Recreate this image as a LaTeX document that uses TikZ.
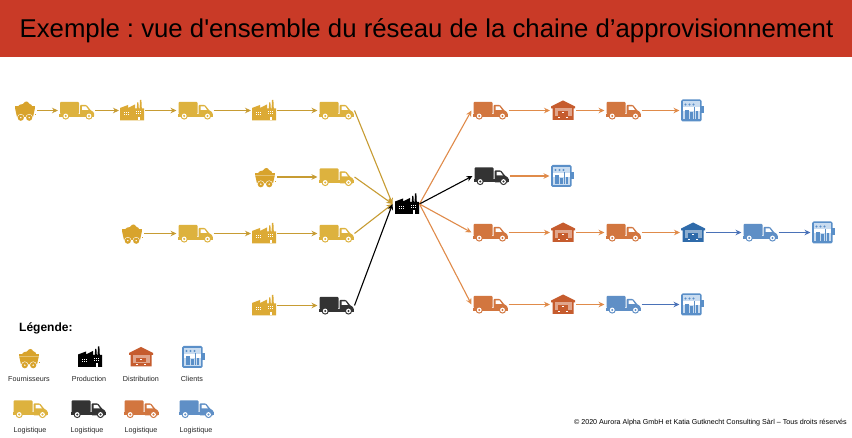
\documentclass[tikz,border=0pt]{standalone}
\usepackage{fontspec}
\setmainfont{Liberation Sans}
\newfontfamily\plainfont{Liberation Sans}
\usetikzlibrary{arrows.meta}
\definecolor{band}{HTML}{C93A27}
\definecolor{ty}{HTML}{DDB23E}
\definecolor{my}{HTML}{D8A32C}
\definecolor{fy}{HTML}{DCAA35}
\definecolor{ly}{HTML}{C79C33}
\definecolor{tk}{HTML}{333333}
\definecolor{to}{HTML}{D2763F}
\definecolor{wo}{HTML}{C65C2E}
\definecolor{lo}{HTML}{E08B4A}
\definecolor{tb}{HTML}{5F8FC6}
\definecolor{wb}{HTML}{2F6BAA}
\definecolor{lb}{HTML}{4A72B8}
\definecolor{cb}{HTML}{5A8FC8}
\definecolor{cl}{HTML}{C9DCF0}
\tikzset{
  x=1pt,y=-1pt,
  truckbox/.style={minimum width=35pt,minimum height=18pt,inner sep=0pt,outer sep=1pt},
  minebox/.style={minimum width=21pt,minimum height=20pt,inner sep=0pt,outer sep=1.5pt},
  factbox/.style={minimum width=24pt,minimum height=20pt,inner sep=0pt,outer sep=1pt},
  hubbox/.style={minimum width=27pt,minimum height=20pt,inner sep=0pt,outer sep=0pt},
  housebox/.style={minimum width=24pt,minimum height=20pt,inner sep=0pt,outer sep=1pt},
  clientbox/.style={minimum width=23pt,minimum height=22pt,inner sep=0pt,outer sep=1pt},
  link/.style={line width=1.1pt,-{Stealth[length=6pt,width=5.5pt]}},
  ylink/.style={link,draw=ly},
  olink/.style={link,draw=lo},
  blink/.style={link,draw=lb},
  klink/.style={link,draw=black},
  leg/.style={font=\fontsize{7.2}{8}\selectfont,text=black!85,inner sep=0pt},
  pics/truck/.style={code={
    \fill[#1,rounded corners=0.8pt] (-16.5,-8.5) rectangle (2.5,3.5);
    \fill[#1] (-17.5,3.5) rectangle (17.5,6.5);
    \fill[#1,rounded corners=0.8pt] (3.5,-5.5) -- (10,-5.5) -- (14,-0.5) -- (17.5,2) -- (17.5,6.5) -- (3.5,6.5) -- cycle;
    \fill[white] (5.5,-4) -- (9.5,-4) -- (12,-0.5) -- (5.5,-0.5) -- cycle;
    \foreach \wx in {-10.8,12.5}{
      \fill[#1] (\wx,5.5) circle (3.6);
      \fill[white] (\wx,5.5) circle (2.4);
      \fill[#1] (\wx,5.5) circle (1.2);
    }
  }},
  pics/mine/.style={code={
    \fill[#1] (-7,-3) .. controls (-7,-6) and (-3,-6.5) .. (-2,-6.5) .. controls (0,-10) and (3,-9.5) .. (4,-7) .. controls (6,-6.5) and (7.5,-5) .. (7.5,-3) -- cycle;
    \fill[#1] (-10.2,-4) -- (10.2,-4) -- (10.2,-1.5) -- (-10.2,-1.5) -- cycle;
    \fill[#1] (-9.8,-1.5) -- (9.8,-1.5) -- (8,6.5) -- (-8,6.5) -- cycle;
    \foreach \wx in {-4.2,4.2}{
      \fill[white] (\wx,7.2) circle (3.7);
      \fill[#1] (\wx,7.2) circle (3.1);
      \fill[white] (\wx,7.2) circle (0.8);
    }
    \fill[#1] (10,4) rectangle (11,5);
  }},
  pics/factory/.style={code={
    \fill[#1] (-12,10) -- (-12,-2.5) -- (-4,-5.5) -- (-4,-2.5) -- (3,-6) -- (3,-2) -- (4.8,-2) -- (5.2,-8) -- (6.4,-8) -- (6.8,-2) -- (7.6,-2) -- (8,-10.5) -- (9.4,-10.5) -- (9.8,-2) -- (12,-2) -- (12,10) -- cycle;
    \foreach \dx/\dy in {-8.5/2,-6.5/2,-4.5/2,-8.5/4,-6.5/4,-4.5/4,4/1,6/1,8/1,4/3,6/3,8/3}{
      \fill[white] (\dx,\dy) rectangle ++(1.1,1);
    }
    \fill[white] (6,6.5) rectangle (8,10);
  }},
  pics/house/.style={code={
    \fill[#1] (-12,-4) -- (0,-10) -- (12,-4) -- (12,-2) -- (10.5,-2) -- (10.5,9.5) -- (-10.5,9.5) -- (-10.5,-2) -- (-12,-2) -- cycle;
    \fill[white!45!#1] (-8.5,-2) rectangle (8.5,9.5);
    \fill[#1] (-5,1) rectangle (5,5.2);
    \fill[#1] (-8.5,5.8) rectangle (-0.3,9.5);
    \fill[#1] (0.3,5.8) rectangle (8.5,9.5);
    \fill[white] (-0.8,2) rectangle (0.8,3);
    \fill[white] (-5,6.6) rectangle (-3.4,7.6);
    \fill[white] (3.4,6.6) rectangle (5,7.6);
  }},
  pics/client/.style={code={
    \fill[cb] (9,-4) rectangle (12,3);
    \fill[cb,rounded corners=1.5pt] (-11,-11) rectangle (9.5,11);
    \fill[cl] (-9,-9) rectangle (7.5,9);
    \foreach \dx in {-6.5,-2.5,1.5}{ \fill[cb] (\dx,-6) circle (1.1); }
    \fill[white] (-9,-3) rectangle (7.5,1);
    \fill[cb] (-7.5,-0.5) rectangle (-3.5,8.5);
    \fill[cb] (-2.5,2) rectangle (0.8,8.5);
    \fill[cb] (1.8,-3.5) rectangle (3,8.5);
    \fill[cb] (3.8,1) rectangle (6.2,8.5);
  }},
}
\newcommand{\tk}[4]{\node[truckbox] (#1) at (#2,#3) {}; \pic at (#1) {truck=#4};}
\newcommand{\mn}[3]{\node[minebox] (#1) at (#2,#3) {}; \pic at (#1) {mine=my};}
\newcommand{\fc}[4]{\node[factbox] (#1) at (#2,#3) {}; \pic at (#1) {factory=#4};}
\newcommand{\hs}[4]{\node[housebox] (#1) at (#2,#3) {}; \pic at (#1) {house=#4};}
\newcommand{\cl}[3]{\node[clientbox] (#1) at (#2,#3) {}; \pic at (#1) {client};}
\begin{document}
\frenchspacing
\begin{tikzpicture}
\useasboundingbox (0,0) rectangle (852,438);
\fill[white] (0,0) rectangle (852,438);
\node[fill=band,minimum width=852pt,minimum height=57pt,inner sep=0pt,anchor=north west] (band) at (0,0) {};
\node[font=\plainfont\fontsize{25.75}{30}\selectfont,text=black,inner sep=0pt] (title) at (426.5,31) {Exemple : vue d'ensemble du réseau de la chaine d’approvisionnement};
% row 1
\mn{a1}{25}{110.5}
\tk{a2}{76.5}{110.5}{ty}
\fc{a3}{132}{110.5}{fy}
\tk{a4}{195}{110.5}{ty}
\fc{a5}{264}{110.5}{fy}
\tk{a6}{336}{110.5}{ty}
% row 2
\mn{b1}{265}{177}
\tk{b2}{336}{177}{ty}
% row 3
\mn{c1}{132}{233.5}
\tk{c2}{195}{233.5}{ty}
\fc{c3}{264}{233.5}{fy}
\tk{c4}{336}{233.5}{ty}
% row 4
\fc{d1}{264}{305.5}{fy}
\tk{d2}{336}{305.5}{tk}
% centre
\node[hubbox] (hub) at (406,204) {}; \pic at (407,204) {factory=black};
% right
\tk{e1}{490}{110.5}{to}
\hs{e2}{563}{110.5}{wo}
\tk{e3}{623}{110.5}{to}
\cl{e4}{692}{110.5}
\tk{f1}{491}{176}{tk}
\cl{f2}{562}{176}
\tk{g1}{490}{232.5}{to}
\hs{g2}{563}{232.5}{wo}
\tk{g3}{623}{232.5}{to}
\hs{g4}{693}{232.5}{wb}
\tk{g5}{760}{232.5}{tb}
\cl{g6}{823}{232.5}
\tk{h1}{490}{304.5}{to}
\hs{h2}{563}{304.5}{wo}
\tk{h3}{623}{304.5}{tb}
\cl{h4}{692}{304.5}
% connectors
\foreach \p/\q in {a1/a2,a2/a3,a3/a4,a4/a5,a5/a6,b1/b2,c1/c2,c2/c3,c3/c4,d1/d2}{
  \draw[ylink] (\p) -- (\q);
}
\draw[ylink] (a6.east) -- (hub.west);
\draw[ylink] (b2.east) -- (hub.west);
\draw[ylink] (c4.east) -- (hub.west);
\draw[klink] (d2.east) -- (hub.west);
\draw[olink] (hub.east) -- (e1.west);
\draw[klink] (hub.east) -- (f1.west);
\draw[olink] (hub.east) -- (g1.west);
\draw[olink] (hub.east) -- (h1.west);
\foreach \p/\q in {e1/e2,e2/e3,e3/e4,f1/f2,g1/g2,g2/g3,g3/g4,h1/h2,h2/h3}{
  \draw[olink] (\p) -- (\q);
}
\foreach \p/\q in {g4/g5,g5/g6,h3/h4}{
  \draw[blink] (\p) -- (\q);
}
% legend
\node[font=\bfseries\fontsize{12}{13}\selectfont,anchor=west,inner sep=0pt] (legt) at (19,328) {Légende:};
\mn{l1}{29}{358}
\fc{l2}{90}{357}{black}
\hs{l3}{141}{357}{wo}
\cl{l4}{193}{357}
\tk{l5}{30}{409}{ty}
\tk{l6}{88}{409}{tk}
\tk{l7}{141}{409}{to}
\tk{l8}{196}{409}{tb}
\node[leg] (lt1) at (29,378.5) {Fournisseurs};
\node[leg] (lt2) at (89,378.5) {Production};
\node[leg] (lt3) at (141,378.5) {Distribution};
\node[leg] (lt4) at (192,378.5) {Clients};
\node[leg] (lt5) at (30,431) {Logistique};
\node[leg] (lt6) at (87,430.5) {Logistique};
\node[leg] (lt7) at (141,430.5) {Logistique};
\node[leg] (lt8) at (196,430.5) {Logistique};
\node[font=\fontsize{7.15}{8}\selectfont,anchor=east,inner sep=0pt] (copy) at (847,423) {© 2020 Aurora Alpha GmbH et Katia Gutknecht Consulting Sàrl – Tous droits réservés};
\end{tikzpicture}
\end{document}
